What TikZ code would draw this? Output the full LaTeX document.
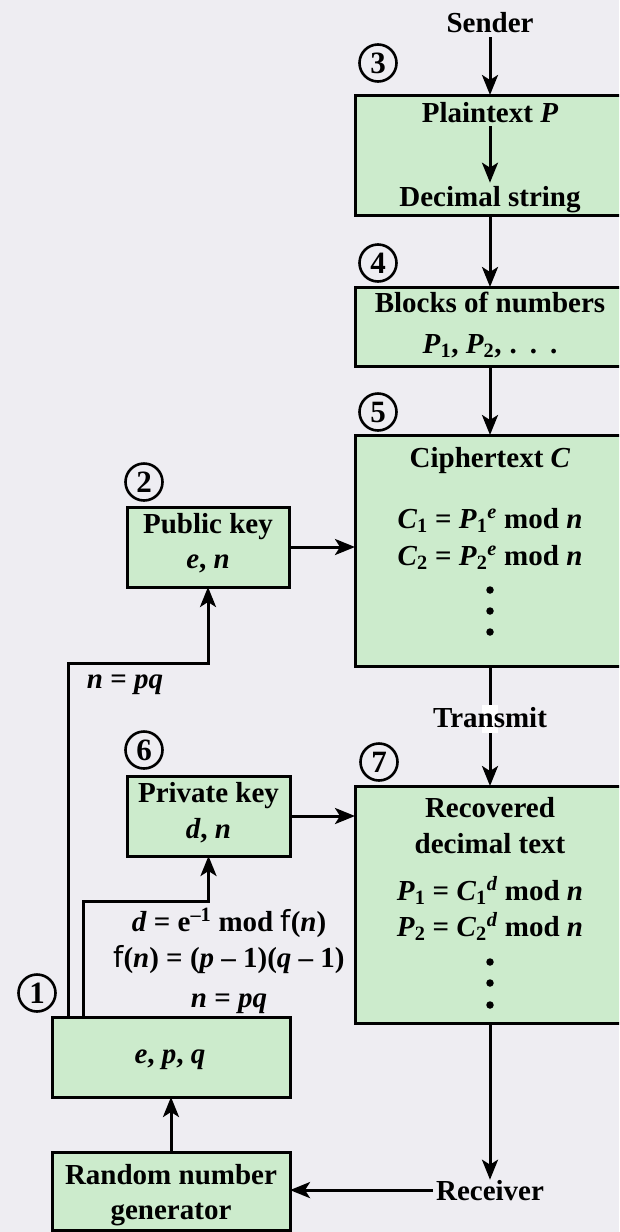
\documentclass[tikz,border=0pt]{standalone}
\usepackage{fontspec}
\setmainfont{Liberation Serif}
\newfontfamily\phifont{DejaVu Sans}
\usetikzlibrary{arrows.meta}
\definecolor{bg}{RGB}{238,237,242}
\definecolor{boxgreen}{RGB}{204,235,204}
\newcommand{\vi}[1]{\textit{#1}}
\newcommand{\phif}{{\phifont\mdseries f}}
\begin{document}
\begin{tikzpicture}[x=1pt,y=-1pt,
  every node/.style={font=\fontsize{29}{35}\selectfont\bfseries},
  box/.style={draw, line width=3pt, fill=boxgreen, inner sep=0pt, outer sep=0pt},
  conn/.style={line width=3pt, -{Stealth[length=20pt,width=16pt,inset=5pt]}},
  num/.style={circle, draw, line width=2.6pt, inner sep=0pt, minimum size=37pt, font=\fontsize{31}{31}\selectfont\bfseries},
  txt/.style={inner sep=0pt, anchor=base},
  dot/.style={circle, fill, inner sep=0pt, minimum size=7.5pt}]
\fill[bg] (0,0) rectangle (619,1232);
\useasboundingbox (0,0) rectangle (619,1232);
\clip (0,0) rectangle (619,1232);

% boxes
\node[box, minimum width=270pt, minimum height=120pt] (b3) at (490,155) {};
\node[box, minimum width=270pt, minimum height=79pt] (b4) at (490,326.5) {};
\node[box, minimum width=270pt, minimum height=231pt] (b5) at (490,550.5) {};
\node[box, minimum width=270pt, minimum height=237pt] (b7) at (490,904.5) {};
\node[box, minimum width=162pt, minimum height=80pt] (pub) at (208,547) {};
\node[box, minimum width=163pt, minimum height=80pt] (priv) at (208.5,816) {};
\node[box, minimum width=238pt, minimum height=80pt] (b1) at (171,1057) {};
\node[box, minimum width=238pt, minimum height=78pt] (rng) at (171,1191) {};

% circled numbers
\node[num] (n3) at (378,63) {3};
\node[num] (n4) at (378,263) {4};
\node[num] (n5) at (378,412) {5};
\node[num] (n2) at (144,482) {2};
\node[num] (n6) at (144,750) {6};
\node[num] (n7) at (379,762) {7};
\node[num] (n1) at (37,993) {1};

% texts
\node[txt] (sender) at (490,32) {Sender};
\node[txt] (pt) at (490,122) {Plaintext \vi{P}};
\node[txt] (ds) at (490,206) {Decimal string};
\node[txt] (blk) at (490,312) {Blocks of numbers};
\node[txt] (pp) at (490,353) {\vi{P}\textsubscript{1}, \vi{P}\textsubscript{2},\hspace{8pt}.\hspace{13pt}.\hspace{13pt}.};
\node[txt] (ct) at (490,467) {Ciphertext \vi{C}};
\node[txt] (c1) at (490,528) {\vi{C}\textsubscript{1} = \vi{P}\textsubscript{1}\textsuperscript{\vi{e}} mod \vi{n}};
\node[txt] (c2) at (490,565) {\vi{C}\textsubscript{2} = \vi{P}\textsubscript{2}\textsuperscript{\vi{e}} mod \vi{n}};
\node[dot] (d51) at (490,590) {};
\node[dot] (d52) at (490,611) {};
\node[dot] (d53) at (490,632) {};
\node[txt] (pk1) at (208,533) {Public key};
\node[txt] (pk2) at (208,568) {\vi{e}, \vi{n}};
\node[txt] (npq1) at (125,688) {\vi{n} = \vi{pq}};
\node[txt] (vk1) at (208.5,802) {Private key};
\node[txt] (vk2) at (208.5,838) {\vi{d}, \vi{n}};
\node[txt] (rc1) at (490,817) {Recovered};
\node[txt] (rc2) at (490,853) {decimal text};
\node[txt] (p1) at (490,900) {\vi{P}\textsubscript{1} = \vi{C}\textsubscript{1}\textsuperscript{\vi{d}} mod \vi{n}};
\node[txt] (p2) at (490,936) {\vi{P}\textsubscript{2} = \vi{C}\textsubscript{2}\textsuperscript{\vi{d}} mod \vi{n}};
\node[dot] (d71) at (490,962) {};
\node[dot] (d72) at (490,983) {};
\node[dot] (d73) at (490,1005) {};
\node[txt] (eq1) at (229,931) {\vi{d} = e\textsuperscript{–1} mod \phif(\vi{n})};
\node[txt] (eq2) at (229,967) {\phif(\vi{n}) = (\vi{p} – 1)(\vi{q} – 1)};
\node[txt] (eq3) at (229,1007) {\vi{n} = \vi{pq}};
\node[txt] (epq) at (170,1063) {\vi{e}, \vi{p}, \vi{q}};
\node[txt] (rn1) at (171,1184) {Random number};
\node[txt] (rn2) at (171,1219) {generator};
\node[txt] (recv) at (490,1200) {Receiver};

% connectors
\draw[conn, shorten <=5pt] (sender) -- (b3.north -| sender);
\draw[conn, shorten <=4pt, shorten >=3pt] (pt) -- (ds.north);
\draw[conn] (b3.south -| sender) -- (b4.north -| sender);
\draw[conn] (b4.south -| sender) -- (b5.north -| sender);
\draw[conn] (b5.south -| sender) -- (b7.north -| sender);
\fill[white] (482,705) rectangle (498,733);
\node[txt] (tr) at (490,727) {Transmit};
\draw[conn] (b7.south -| sender) -- (recv.north);
\draw[conn, shorten <=3pt] (recv.west) -- (recv.west -| rng.east);
\draw[conn] (rng.north) -- (b1.south);
\coordinate (k1) at (68,663);
\coordinate (k2) at (83,901);
\draw[conn] (b1.north -| k1) -- (k1) -| (pub.south);
\draw[conn] (b1.north -| k2) -- (k2) -| (priv.south);
\draw[conn] (pub.east) -- (pub.east -| b5.west);
\draw[conn] (priv.east) -- (priv.east -| b7.west);
\end{tikzpicture}
\end{document}
